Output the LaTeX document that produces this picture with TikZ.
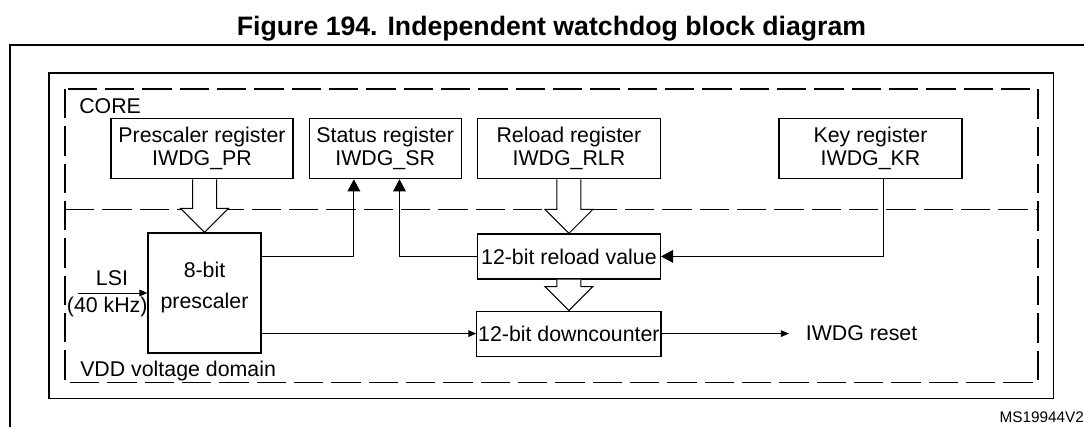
\documentclass[tikz,border=0pt]{standalone}
\usepackage{fontspec}
\setmainfont{Liberation Sans}
\usetikzlibrary{arrows.meta}
\usetikzlibrary{calc}
\usetikzlibrary{positioning}
\tikzset{reg/.style = {draw, line width=0.9pt, inner sep=1pt, align=center,
                       font=\fontsize{16}{17.5}\selectfont}}
\tikzset{txt/.style = {inner sep=0, font=\fontsize{16}{17.5}\selectfont}}
\tikzset{bigtip/.style = {-{Triangle[length=9pt, width=9.5pt]}, line width=0.75pt}}
\tikzset{smalltip/.style = {-{Triangle[length=6pt, width=5pt]}, line width=0.75pt}}
\tikzset{domainline/.style = {dash pattern=on 22pt off 6pt, line width=0.9pt}}
\newcommand{\hollowarrow}[2]{%
  \draw [line width=0.75pt, fill=white] let \p1 = (#1), \p2 = (#2) in
    (\x2-9pt, \y1) -- (\x2-9pt, \y2+18pt) -- (\x2-18pt, \y2+18pt) -- (\x2, \y2)
    -- (\x2+18pt, \y2+18pt) -- (\x2+9pt, \y2+18pt) -- (\x2+9pt, \y1);}

\begin{document}
\begin{tikzpicture}[x=0.75pt, y=-0.75pt]
      \useasboundingbox (0, 0) rectangle (1084, 426);

      \node [font=\bfseries\fontsize{20}{24}\selectfont, inner sep=0, anchor=base] (title) at (551.5, 35) {Figure 194. Independent watchdog block diagram};

      \draw [line width=1.5pt] (9.5, 440) -- (9.5, 45) -- (1100, 45);

      \draw [line width=0.9pt] (49, 73) rectangle (1053.3, 398.5);

      \draw [domainline] (65, 89) rectangle (1038, 382.7);
      \draw [domainline] (65, 209.3) -- (1038, 209.3);

      \node [txt, anchor=base west] (core) at (79, 113) {CORE};
      \node [txt, anchor=base west] (vdd) at (80, 376) {VDD voltage domain};

      \node [reg, minimum width=136.5pt, minimum height=45pt] (preg) at (202, 148.7) {Prescaler register\\IWDG\_PR};
      \node [reg, minimum width=114pt, minimum height=45pt, right=11.25pt of preg] (sr) {Status register\\IWDG\_SR};
      \node [reg, minimum width=137.25pt, minimum height=45pt, right=11.25pt of sr] (rlr) {Reload register\\IWDG\_RLR};
      \node [reg, minimum width=137.25pt, minimum height=45pt] (kr) at (870.5, 148.7) {Key register\\IWDG\_KR};

      \node [reg, minimum width=84.75pt, minimum height=90pt] (pre) at (204.5, 293) {};
      \node [txt, align=center] (pretext) at ([yshift=4pt]pre.center) {8-bit\\[6pt]prescaler};

      \node [reg, minimum width=137.25pt, minimum height=33.75pt, below=40.5pt of rlr] (rel) {12-bit reload value};
      \node [reg, minimum width=137.25pt, minimum height=33.75pt, below=23.25pt of rel] (cnt) {12-bit downcounter};

      \node [txt, right=108pt of cnt] (rst) {IWDG reset};

      \hollowarrow{preg.south}{pre.north}
      \hollowarrow{rlr.south}{rel.north}
      \hollowarrow{rel.south}{cnt.north}

      \coordinate (lsi) at (78, 293);
      \draw [smalltip] (lsi) -- (pre.west);
      \node [txt, anchor=base] (lsiname) at (112, 285) {LSI};
      \node [txt, anchor=base] (lsifreq) at (107.2, 312.7) {(40 kHz)};

      \draw [bigtip] (pre.east |- rel.west) -| ([xshift=-23.5pt]sr.south);
      \draw [bigtip] (rel.west) -| ([xshift=10.7pt]sr.south);
      \draw [bigtip] ([xshift=10pt]kr.south) |- (rel.east);

      \draw [smalltip] (pre.east |- cnt.west) -- (cnt.west);
      \draw [smalltip] (cnt.east) -- ([xshift=-12.5pt]rst.west);

      \node [font=\fontsize{11.5}{13}\selectfont, inner sep=0, anchor=base west] (ms) at (999.3, 422.7) {MS19944V2};
    \end{tikzpicture}
\end{document}
